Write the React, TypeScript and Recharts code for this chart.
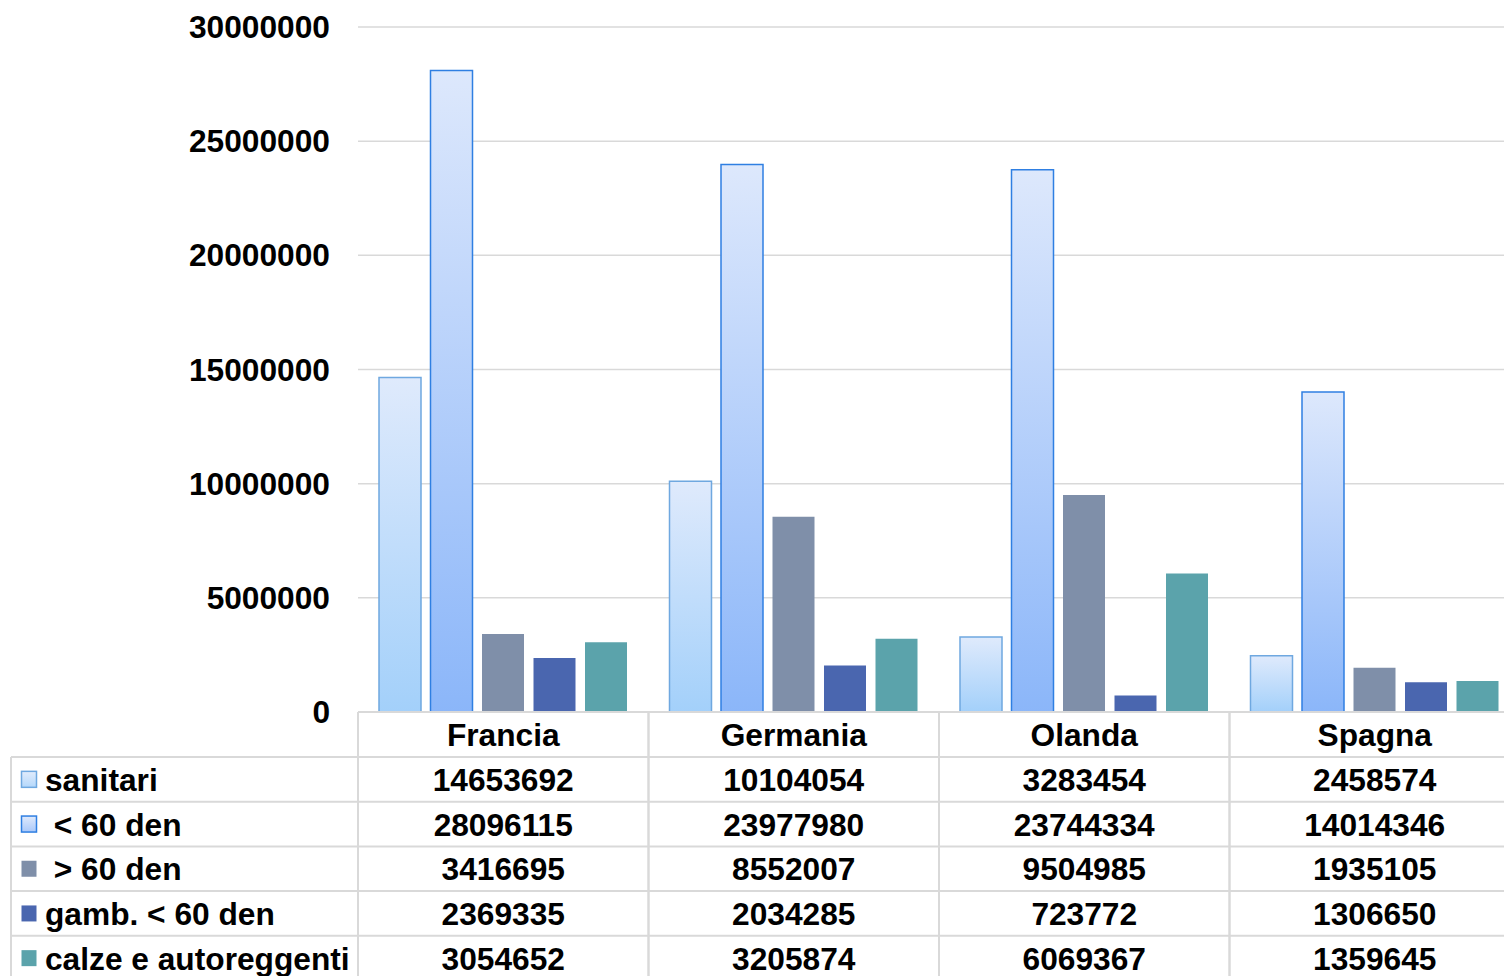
import React from 'react'
import { BarChart, Bar, XAxis, YAxis, CartesianGrid } from 'recharts'

const CATEGORIES = ['Francia', 'Germania', 'Olanda', 'Spagna']
const SANITARI = [14653692, 10104054, 3283454, 2458574]
const SOTTO_60 = [28096115, 23977980, 23744334, 14014346]
const SOPRA_60 = [3416695, 8552007, 9504985, 1935105]
const GAMBALETTI = [2369335, 2034285, 723772, 1306650]
const CALZE = [3054652, 3205874, 6069367, 1359645]
const Y_TICKS = [0, 5000000, 10000000, 15000000, 20000000, 25000000, 30000000]

const SERIES = [
  { key: 'sanitari', label: 'sanitari', values: SANITARI, fill: 'url(#gradSanitari)', stroke: '#6fa8e0' },
  { key: 'sotto60', label: ' < 60 den', values: SOTTO_60, fill: 'url(#gradSotto60)', stroke: '#2f7fe2' },
  { key: 'sopra60', label: ' > 60 den', values: SOPRA_60, fill: '#7f8fa9', stroke: 'none' },
  { key: 'gamb', label: 'gamb. < 60 den', values: GAMBALETTI, fill: '#4a66af', stroke: 'none' },
  { key: 'calze', label: 'calze e autoreggenti', values: CALZE, fill: '#5ba3ab', stroke: 'none' },
]

const data = CATEGORIES.map((name, i) => {
  const row: Record<string, string | number> = { name }
  SERIES.forEach((s) => { row[s.key] = s.values[i] })
  return row
})

// geometry
const CHART_W = 1522
const CHART_H = 990
const Y_AXIS_W = 358
const MARGIN = { top: 27, right: 2, left: 0, bottom: 0 }
const PLOT_W = CHART_W - Y_AXIS_W - MARGIN.left - MARGIN.right
const BASELINE = 712
const HEADER_H = 45
const ROW_H = 44.7
const FONT = '"Liberation Sans", Arial, sans-serif'
const FS = 31.7
const LINE = '#d9d9d9'
const TXT_DY = 0.5

function YTick({ y, payload }: any) {
  return (
    <text x={330} y={y} textAnchor="end" dominantBaseline="central" fontFamily={FONT} fontSize={FS} fontWeight="bold" fill="#000">
      {payload.value}
    </text>
  )
}

function TableTick({ x, y, payload }: any) {
  const idx = CATEGORIES.indexOf(payload.value)
  const band = PLOT_W / CATEGORIES.length
  const left = x - band / 2
  const right = x + band / 2
  const top = y
  const bottom = CHART_H
  return (
    <g>
      <line x1={left} x2={left} y1={top} y2={bottom} stroke={LINE} strokeWidth={2} />
      <line x1={right} x2={right} y1={top} y2={bottom} stroke={LINE} strokeWidth={2} />
      <text x={x} y={top + HEADER_H / 2 + TXT_DY} textAnchor="middle" dominantBaseline="central" fontFamily={FONT} fontSize={FS} fontWeight="bold" fill="#000">
        {payload.value}
      </text>
      {SERIES.map((s, r) => {
        const rowTop = top + HEADER_H + r * ROW_H
        return (
          <g key={s.key}>
            <line x1={left} x2={right} y1={rowTop} y2={rowTop} stroke={LINE} strokeWidth={2} />
            <text x={x} y={rowTop + ROW_H / 2 + TXT_DY} textAnchor="middle" dominantBaseline="central" fontFamily={FONT} fontSize={FS} fontWeight="bold" fill="#000">
              {s.values[idx]}
            </text>
          </g>
        )
      })}
    </g>
  )
}

function LegendColumn() {
  const left = 11
  const right = Y_AXIS_W
  const top = BASELINE + HEADER_H
  return (
    <svg width={Y_AXIS_W + 2} height={CHART_H} style={{ position: 'absolute', left: 0, top: 0, pointerEvents: 'none' }}>
      <defs>
        <linearGradient id="keySanitari" x1="0" y1="0" x2="0" y2="1">
          <stop offset="0%" stopColor="#e2ecfc" />
          <stop offset="100%" stopColor="#b4d8fb" />
        </linearGradient>
        <linearGradient id="keySotto60" x1="0" y1="0" x2="0" y2="1">
          <stop offset="0%" stopColor="#e0eafc" />
          <stop offset="100%" stopColor="#a9c8fa" />
        </linearGradient>
      </defs>
      <line x1={left} x2={left} y1={top} y2={CHART_H} stroke={LINE} strokeWidth={2} />
      {SERIES.map((s, r) => {
        const rowTop = top + r * ROW_H
        const cy = rowTop + ROW_H / 2
        const keyFill = r === 0 ? 'url(#keySanitari)' : r === 1 ? 'url(#keySotto60)' : s.fill
        return (
          <g key={s.key}>
            <line x1={left} x2={right} y1={rowTop} y2={rowTop} stroke={LINE} strokeWidth={2} />
            <rect x={21.5} y={cy - 8} width={15} height={16} fill={keyFill} stroke={s.stroke} strokeWidth={s.stroke === 'none' ? 0 : 1.5} />
            <text x={45} y={cy + TXT_DY} dominantBaseline="central" fontFamily={FONT} fontSize={FS} fontWeight="bold" fill="#000" style={{ whiteSpace: 'pre' }}>
              {s.label}
            </text>
          </g>
        )
      })}
    </svg>
  )
}

export default function App() {
  return (
    <div style={{ position: 'fixed', left: 0, top: 0, width: 1504, height: 976, overflow: 'hidden', background: '#fff' }}>
      <BarChart width={CHART_W} height={CHART_H} data={data} margin={MARGIN} barSize={42} barGap={9.5}>
        <defs>
          <linearGradient id="gradSanitari" x1="0" y1="0" x2="0" y2="1">
            <stop offset="0%" stopColor="#dfeafc" />
            <stop offset="100%" stopColor="#a3d0fa" />
          </linearGradient>
          <linearGradient id="gradSotto60" x1="0" y1="0" x2="0" y2="1">
            <stop offset="0%" stopColor="#dde8fc" />
            <stop offset="100%" stopColor="#8bb6f9" />
          </linearGradient>
        </defs>
        <CartesianGrid vertical={false} stroke={LINE} strokeWidth={1.5} />
        <YAxis
          width={Y_AXIS_W}
          domain={[0, 30000000]}
          ticks={Y_TICKS}
          axisLine={false}
          tickLine={false}
          tick={<YTick />}
          interval={0}
        />
        <XAxis
          dataKey="name"
          height={CHART_H - BASELINE}
          interval={0}
          tickLine={false}
          tickSize={0}
          tickMargin={0}
          axisLine={{ stroke: LINE, strokeWidth: 2 }}
          tick={<TableTick />}
        />
        {SERIES.map((s) => (
          <Bar
            key={s.key}
            dataKey={s.key}
            name={s.label}
            fill={s.fill}
            stroke={s.stroke}
            strokeWidth={s.stroke === 'none' ? 0 : 1.5}
            isAnimationActive={false}
          />
        ))}
      </BarChart>
      <LegendColumn />
    </div>
  )
}
